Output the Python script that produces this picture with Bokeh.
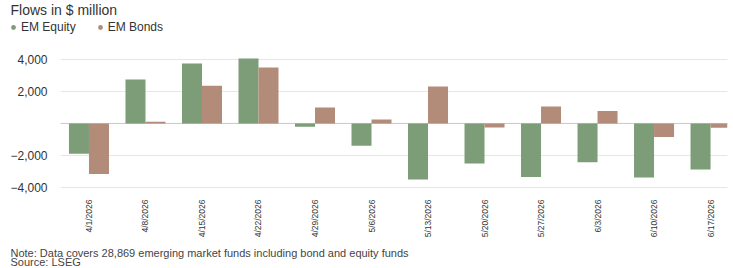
from bokeh.plotting import figure
from bokeh.layouts import column
from bokeh.models import (Range1d, FixedTicker, Span, Label, Legend, LegendItem,
                          ColumnDataSource)
from bokeh.transform import dodge
from bokeh.embed import file_html
from bokeh.resources import INLINE

# ---- data ----
dates = ["4/1/2026", "4/8/2026", "4/15/2026", "4/22/2026", "4/29/2026", "5/6/2026",
         "5/13/2026", "5/20/2026", "5/27/2026", "6/3/2026", "6/10/2026", "6/17/2026"]
em_equity = [-1900, 2750, 3750, 4050, -200, -1400, -3500, -2500, -3350, -2420, -3380, -2880]
em_bonds = [-3150, 100, 2350, 3500, 1000, 250, 2300, -250, 1050, 780, -850, -270]
y_ticks = [-4000, -2000, 0, 2000, 4000]
y_tick_labels = ["\u22124,000", "\u22122,000", "", "2,000", "4,000"]

title_text = "Flows in $ million"
note_text = "Note: Data covers 28,869 emerging market funds including bond and equity funds"
source_text = "Source: LSEG"

GREEN = "#7d9c78"
BROWN = "#b38b79"
FONT = "Liberation Sans"
TXT = "#333333"
W = 733


def blank_fig(h):
    f = figure(width=W, height=h, output_backend="svg", toolbar_location=None,
               x_axis_type=None, y_axis_type=None, frame_align=False,
               x_range=Range1d(0, 1), y_range=Range1d(0, 1),
               min_border=0, min_border_left=0, min_border_right=0,
               min_border_top=0, min_border_bottom=0)
    f.outline_line_color = None
    f.xgrid.visible = False
    f.ygrid.visible = False
    f.background_fill_color = "white"
    f.border_fill_color = "white"
    return f


# ---- header: title + legend ----
header = blank_fig(50)
header.add_layout(Label(x=10, y=41, x_units="screen", y_units="screen", text=title_text,
                        text_font=FONT, text_font_size="14px", text_color=TXT,
                        text_baseline="middle"))
# legend keys: markers kept outside the visible range of the header
r_eq = header.scatter(x=[5], y=[5], marker="circle", fill_color=GREEN, line_color=None)
r_bd = header.scatter(x=[5], y=[5], marker="circle", fill_color=BROWN, line_color=None)
legend = Legend(items=[LegendItem(label="EM Equity", renderers=[r_eq]),
                       LegendItem(label="EM Bonds", renderers=[r_bd])],
                location=(7, 16), orientation="horizontal",
                glyph_width=12, glyph_height=14, label_height=14, label_width=10,
                label_standoff=2, spacing=18, padding=0, margin=0,
                border_line_color=None, background_fill_alpha=0,
                label_text_font=FONT, label_text_font_size="12px",
                label_text_color=TXT, label_text_baseline="middle")
header.add_layout(legend)

# ---- main chart ----
idx = list(range(len(dates)))
src = ColumnDataSource(dict(x=idx, equity=em_equity, bonds=em_bonds))

p = figure(width=W, height=190, output_backend="svg", toolbar_location=None,
           frame_align=False,
           x_range=Range1d(-0.504, 11.30), y_range=Range1d(-4062, 4554),
           min_border_left=60, min_border_right=6, min_border_top=0,
           min_border_bottom=50)
p.outline_line_color = None
p.background_fill_color = "white"
p.border_fill_color = "white"

BW = 0.354
p.vbar(x=dodge("x", -BW / 2), top="equity", width=BW, source=src,
       fill_color=GREEN, line_color=None)
p.vbar(x=dodge("x", BW / 2), top="bonds", width=BW, source=src,
       fill_color=BROWN, line_color=None)

p.add_layout(Span(location=0, dimension="width", line_color="#c9c9c9",
                  line_width=1, level="underlay"))

p.xgrid.visible = False
p.ygrid.grid_line_color = "#e6e6e6"
p.ygrid.ticker = FixedTicker(ticks=y_ticks)

p.yaxis.ticker = FixedTicker(ticks=y_ticks)
p.yaxis.major_label_overrides = {t: l for t, l in zip(y_ticks, y_tick_labels)}
p.yaxis.axis_line_color = None
p.yaxis.major_tick_line_color = None
p.yaxis.minor_tick_line_color = None
p.yaxis.major_label_standoff = 7
p.yaxis.major_label_text_font = FONT
p.yaxis.major_label_text_font_size = "12px"
p.yaxis.major_label_text_color = TXT

p.xaxis.ticker = FixedTicker(ticks=idx)
p.xaxis.major_label_overrides = {i: d for i, d in zip(idx, dates)}
p.xaxis.major_label_orientation = 3.14159265 / 2
p.xaxis.axis_line_color = None
p.xaxis.major_tick_line_color = None
p.xaxis.minor_tick_line_color = None
p.xaxis.major_label_standoff = 5
p.xaxis.major_label_text_font = FONT
p.xaxis.major_label_text_font_size = "8.5px"
p.xaxis.major_label_text_color = TXT

# ---- footer: note + source ----
footer = blank_fig(28)
footer.add_layout(Label(x=10, y=16, x_units="screen", y_units="screen", text=note_text,
                        text_font=FONT, text_font_size="11px", text_color="#444444",
                        text_baseline="middle"))
footer.add_layout(Label(x=10, y=7, x_units="screen", y_units="screen", text=source_text,
                        text_font=FONT, text_font_size="11px", text_color="#444444",
                        text_baseline="middle"))

layout = column(header, p, footer, spacing=0)
open("out.html", "w").write(file_html(layout, INLINE))
